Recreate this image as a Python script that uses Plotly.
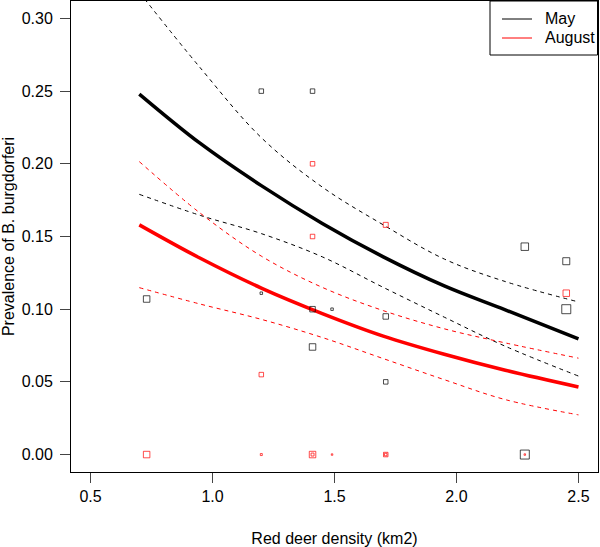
import plotly.graph_objects as go

# ---- observed prevalence per site ----
may_x = [0.73, 1.20, 1.20, 1.41, 1.41, 1.41, 1.49, 1.71, 1.71, 2.28, 2.28, 2.45, 2.45]
may_y = [0.107, 0.250, 0.111, 0.250, 0.100, 0.074, 0.100, 0.095, 0.050, 0.143, 0.000, 0.133, 0.100]
may_n = [6.5, 4.5, 2.5, 4.5, 5.5, 6.5, 2.5, 5.5, 4.5, 7.5, 9.0, 7.0, 9.0]

aug_x = [0.73, 1.20, 1.20, 1.41, 1.41, 1.41, 1.41, 1.49, 1.71, 1.71, 1.71, 2.28, 2.45]
aug_y = [0.000, 0.055, 0.000, 0.200, 0.150, 0.000, 0.000, 0.000, 0.158, 0.000, 0.000, 0.000, 0.111]
aug_n = [6.5, 4.5, 2.0, 4.5, 4.5, 6.5, 3.0, 1.5, 5.0, 4.5, 2.5, 1.5, 6.5]

# ---- fitted curves ----
fit_x = [0.70, 0.95, 1.20, 1.45, 1.70, 1.95, 2.20, 2.50]
may_fit = [0.248, 0.214, 0.185, 0.159, 0.136, 0.116, 0.0995, 0.0795]
may_up = [0.318, 0.266, 0.218, 0.184, 0.158, 0.1345, 0.119, 0.105]
may_lo = [0.179, 0.1645, 0.152, 0.136, 0.115, 0.0945, 0.0745, 0.054]
aug_fit = [0.158, 0.135, 0.1145, 0.097, 0.0815, 0.069, 0.058, 0.0465]
aug_up = [0.2015, 0.166, 0.1365, 0.115, 0.099, 0.0865, 0.0768, 0.0663]
aug_lo = [0.1148, 0.1035, 0.093, 0.0805, 0.066, 0.0515, 0.0378, 0.0273]

x_ticks = [0.5, 1.0, 1.5, 2.0, 2.5]
y_ticks = [0.00, 0.05, 0.10, 0.15, 0.20, 0.25, 0.30]

legend_labels = ["May", "August"]
legend_colors = ["#000000", "#FF0000"]

BLACK = "#000000"
RED = "#FF0000"
FONT = "Liberation Sans, Arial, sans-serif"

fig = go.Figure()

def curve(x, y, color, width, dash=None):
    fig.add_trace(go.Scatter(
        x=x, y=y, mode="lines", showlegend=False, hoverinfo="skip",
        line=dict(color=color, width=width, dash=dash, shape="spline", smoothing=1.0)))

curve(fit_x, may_up, BLACK, 1, "4px,4px")
curve(fit_x, may_lo, BLACK, 1, "4px,4px")
curve(fit_x, aug_up, RED, 1, "4px,4px")
curve(fit_x, aug_lo, RED, 1, "4px,4px")
curve(fit_x, may_fit, BLACK, 3.5)
curve(fit_x, aug_fit, RED, 3.5)

fig.add_trace(go.Scatter(
    x=may_x, y=may_y, mode="markers", name="May", showlegend=False,
    marker=dict(symbol="square-open", size=may_n, color=BLACK, line=dict(width=1, color=BLACK))))
fig.add_trace(go.Scatter(
    x=aug_x, y=aug_y, mode="markers", name="August", showlegend=False,
    marker=dict(symbol="square-open", size=aug_n, color=RED, line=dict(width=1, color=RED))))

# ---- legend box drawn in paper coordinates (plot area: x 71..598, y 1..472 px) ----
def px_x(p):
    return (p - 71) / 527.0

def px_y(p):
    return (472 - p) / 471.0

shapes = [dict(type="rect", xref="paper", yref="paper",
               x0=px_x(490), x1=px_x(597.5), y0=px_y(55), y1=px_y(1),
               line=dict(color=BLACK, width=1), fillcolor="white", layer="above")]
annotations = []
for i, (lab, col) in enumerate(zip(legend_labels, legend_colors)):
    yy = px_y(19 + 19 * i)
    shapes.append(dict(type="line", xref="paper", yref="paper",
                       x0=px_x(502), x1=px_x(532), y0=yy, y1=yy,
                       line=dict(color=col, width=1), layer="above"))
    annotations.append(dict(text=lab, xref="paper", yref="paper", x=px_x(543), y=yy,
                            xanchor="left", yanchor="middle", showarrow=False,
                            font=dict(family=FONT, size=16, color=BLACK)))

axis_common = dict(
    showline=True, linecolor=BLACK, linewidth=1, mirror=True,
    ticks="outside", ticklen=10, tickwidth=1, tickcolor="#444444",
    showgrid=False, zeroline=False, automargin=False,
    tickfont=dict(family=FONT, size=16, color=BLACK),
)

fig.update_layout(
    width=600, height=547,
    margin=dict(l=71, r=2, t=1, b=75),
    paper_bgcolor="white", plot_bgcolor="white",
    font=dict(family=FONT, size=16, color=BLACK),
    showlegend=False,
    xaxis=dict(range=[0.42, 2.58], tickvals=x_ticks, tickformat=".1f",
               title=dict(text="Red deer density (km2)", font=dict(family=FONT, size=16), standoff=28),
               **axis_common),
    yaxis=dict(range=[-0.012, 0.312], tickvals=y_ticks, tickformat=".2f", ticklabelstandoff=4,
               title=dict(text="Prevalence of B. burgdorferi", font=dict(family=FONT, size=16), standoff=10),
               **axis_common),
    shapes=shapes,
    annotations=annotations,
)

fig.write_html("out.html",
               config={"displayModeBar": False, "staticPlot": True},
               post_script="document.body.style.margin='0px';document.body.style.overflow='hidden';")
